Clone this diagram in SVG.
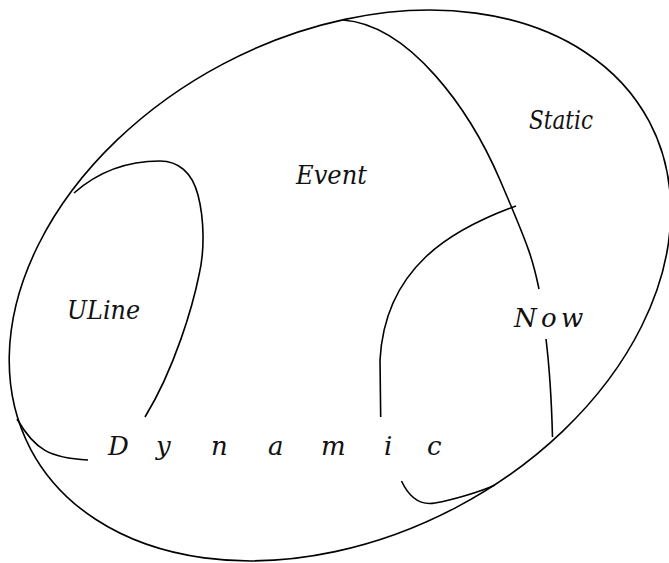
<svg xmlns="http://www.w3.org/2000/svg" width="669" height="563" viewBox="0 0 669 563">
<style>
.ln{fill:none;stroke:#000;stroke-width:1.6;stroke-linecap:butt}
.lb{font-family:"DejaVu Serif","Liberation Serif",serif;font-style:italic;font-size:26px;fill:#111}
</style>
<rect width="669" height="563" fill="#fff"/>
<g id="outer">
<ellipse class="ln" cx="340" cy="285.5" rx="350" ry="250.5" transform="rotate(-27.9 340 285.5)"/>
</g>
<g id="connectors">
<path class="ln" d="M343,20 C410,25 470,110 500,180 S533,260 539,289"/>
<path class="ln" d="M546,339 Q551,380 552.5,437"/>
<path class="ln" d="M516,206 C450,230 385,268 380,360 L380.7,417"/>
<path class="ln" d="M401.5,481 C408,495 418,506 435,503 S480,492 495,485"/>
<path class="ln" d="M74,193 C100,170 130,161 160,161 C178,161 192,172 198,195 C204,218 205,250 199,275 C193,305 175,368 145,417"/>
<path class="ln" d="M17,419 C35,450 50,458 88,460"/>
</g>
<g id="static"><text class="lb" x="529" y="129" textLength="64" lengthAdjust="spacingAndGlyphs">Static</text></g>
<g id="event"><text class="lb" x="296" y="184" textLength="71" lengthAdjust="spacingAndGlyphs">Event</text></g>
<g id="uline"><text class="lb" x="67" y="319" textLength="73" lengthAdjust="spacingAndGlyphs">ULine</text></g>
<g id="now"><text class="lb" x="514 541 561" y="327">Now</text></g>
<g id="dynamic"><text class="lb" x="108 156 211 268 321 384 427" y="455">Dynamic</text></g>
</svg>
